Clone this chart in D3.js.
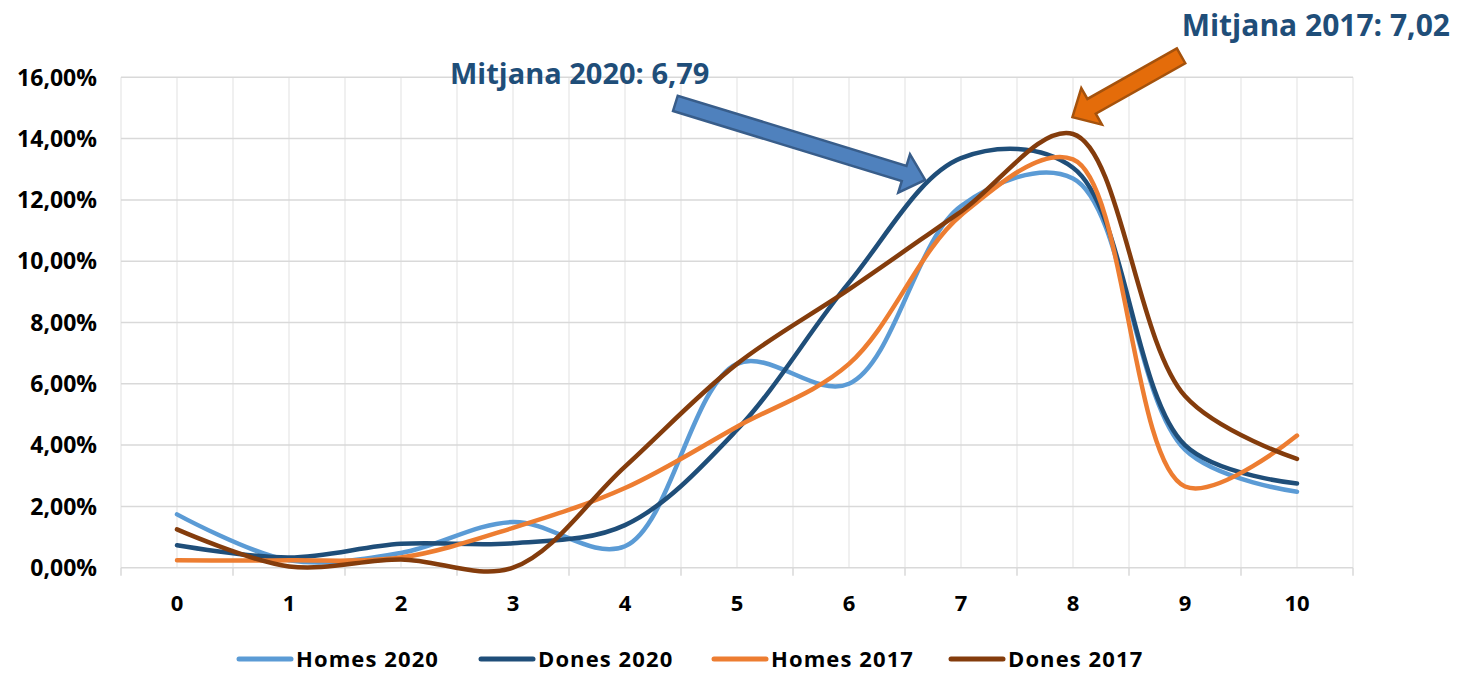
<!DOCTYPE html>
<html>
<head>
<meta charset="utf-8">
<script src="https://cdn.jsdelivr.net/npm/d3@7"></script>
<style>
  body { margin: 0; background: #fff; }
  svg { font-family: "Open Sans", "Noto Sans", sans-serif; font-weight: bold; }
</style>
</head>
<body>
<div id="chart"></div>
<script>
// categories (score 0..10)
const categories = ["0", "1", "2", "3", "4", "5", "6", "7", "8", "9", "10"];

// percentages
const homes2020 = [1.74, 0.24, 0.48, 1.49, 0.70, 6.65, 6.00, 11.80, 12.70, 3.85, 2.48];
const dones2020 = [0.73, 0.33, 0.78, 0.80, 1.39, 4.50, 9.30, 13.36, 13.05, 4.00, 2.75];
const homes2017 = [0.24, 0.24, 0.33, 1.30, 2.60, 4.60, 6.65, 11.50, 13.32, 2.65, 4.31];
const dones2017 = [1.25, 0.04, 0.27, 0.00, 3.30, 6.65, 9.08, 11.62, 14.15, 5.60, 3.55];

const seriesNames = ["Homes 2020", "Dones 2020", "Homes 2017", "Dones 2017"];
const seriesColors = ["#5B9BD5", "#1F4E79", "#ED7D31", "#843C0C"];
const yTicks = [0, 2, 4, 6, 8, 10, 12, 14, 16];

const series = [homes2020, dones2020, homes2017, dones2017].map((vals, i) => ({
  name: seriesNames[i],
  color: seriesColors[i],
  values: vals
}));

const W = 1459, H = 673;
const plot = {left: 121, right: 1353, top: 77.3, bottom: 567.7};

const svg = d3.select("#chart").append("svg")
    .attr("width", W)
    .attr("height", H);

const x = d3.scalePoint()
    .domain(categories)
    .range([plot.left, plot.right])
    .padding(0.5);
const step = x.step();

const y = d3.scaleLinear()
    .domain([0, 16])
    .range([plot.bottom, plot.top]);

// index scale for annotation arrows
const xi = d3.scaleLinear()
    .domain([0, categories.length - 1])
    .range([x(categories[0]), x(categories[categories.length - 1])]);

// ---------------------------------------
// gridlines
const vLines = [];
categories.forEach((c) => {
  vLines.push(x(c) - step / 2);
  vLines.push(x(c));
});
vLines.push(plot.right);

svg.append("g")
    .selectAll("line")
    .data(vLines)
    .enter()
    .append("line")
    .attr("x1", (d) => d)
    .attr("x2", (d) => d)
    .attr("y1", plot.top)
    .attr("y2", plot.bottom)
    .attr("stroke", "#ebebeb")
    .attr("stroke-width", 1.5);

svg.append("g")
    .selectAll("line")
    .data(yTicks)
    .enter()
    .append("line")
    .attr("x1", plot.left)
    .attr("x2", plot.right)
    .attr("y1", (d) => y(d))
    .attr("y2", (d) => y(d))
    .attr("stroke", "#d9d9d9")
    .attr("stroke-width", 1.5);

// tick marks under the axis at band edges
svg.append("g")
    .selectAll("line")
    .data(categories.map((c) => x(c) - step / 2).concat([plot.right]))
    .enter()
    .append("line")
    .attr("x1", (d) => d)
    .attr("x2", (d) => d)
    .attr("y1", plot.bottom)
    .attr("y2", plot.bottom + 8)
    .attr("stroke", "#d9d9d9")
    .attr("stroke-width", 1.5);

// y labels
svg.append("g")
    .selectAll("text")
    .data(yTicks)
    .enter()
    .append("text")
    .attr("x", 97)
    .attr("y", (d) => y(d))
    .attr("dy", "0.36em")
    .attr("text-anchor", "end")
    .attr("font-size", 23)
    .attr("fill", "#000")
    .text((d) => d3.format(".2f")(d).replace(".", ",") + "%");

// x labels
svg.append("g")
    .selectAll("text")
    .data(categories)
    .enter()
    .append("text")
    .attr("x", (d) => x(d))
    .attr("y", 611)
    .attr("text-anchor", "middle")
    .attr("font-size", 22)
    .attr("fill", "#000")
    .text((d) => d);

// ---------------------------------------
// smoothed lines
const line = d3.line()
    .x((d, i) => x(categories[i]))
    .y((d) => y(d))
    .curve(d3.curveCatmullRom.alpha(0.5));

svg.append("g")
    .selectAll("path")
    .data(series)
    .enter()
    .append("path")
    .attr("d", (d) => line(d.values))
    .attr("fill", "none")
    .attr("stroke", (d) => d.color)
    .attr("stroke-width", 4.5)
    .attr("stroke-linecap", "round")
    .attr("stroke-linejoin", "round");

// ---------------------------------------
// annotations
function blockArrow(x0, y0, x1, y1, shaftW, headW, headL) {
  const dx = x1 - x0, dy = y1 - y0;
  const len = Math.sqrt(dx * dx + dy * dy);
  const ux = dx / len, uy = dy / len;
  const nx = -uy, ny = ux;
  const bx = x1 - ux * headL, by = y1 - uy * headL;
  const pts = [
    [x0 + nx * shaftW / 2, y0 + ny * shaftW / 2],
    [bx + nx * shaftW / 2, by + ny * shaftW / 2],
    [bx + nx * headW / 2, by + ny * headW / 2],
    [x1, y1],
    [bx - nx * headW / 2, by - ny * headW / 2],
    [bx - nx * shaftW / 2, by - ny * shaftW / 2],
    [x0 - nx * shaftW / 2, y0 - ny * shaftW / 2]
  ];
  return pts.map((p) => p.join(",")).join(" ");
}

svg.append("polygon")
    .attr("points", blockArrow(xi(4.45), y(15.15), xi(6.68), y(12.65), 16, 40, 22))
    .attr("fill", "#4F81BD")
    .attr("stroke", "#385D8A")
    .attr("stroke-width", 2.5);

svg.append("polygon")
    .attr("points", blockArrow(xi(8.965), y(16.7), xi(7.995), y(14.7), 17, 42, 22))
    .attr("fill", "#E46C0A")
    .attr("stroke", "#A5520C")
    .attr("stroke-width", 2.5);

svg.append("text")
    .attr("x", 450)
    .attr("y", 84)
    .attr("font-size", 29)
    .attr("fill", "#1F4E79")
    .text("Mitjana 2020: 6,79");

svg.append("text")
    .attr("x", 1450)
    .attr("y", 36)
    .attr("text-anchor", "end")
    .attr("font-size", 30)
    .attr("fill", "#1F4E79")
    .text("Mitjana 2017: 7,02");

// ---------------------------------------
// legend
const legendX = [237, 479, 712, 949];
const legend = svg.append("g")
    .selectAll("g")
    .data(series)
    .enter()
    .append("g")
    .attr("transform", (d, i) => "translate(" + legendX[i] + ",659)");

legend.append("line")
    .attr("x1", 2)
    .attr("x2", 54)
    .attr("y1", 0)
    .attr("y2", 0)
    .attr("stroke", (d) => d.color)
    .attr("stroke-width", 5)
    .attr("stroke-linecap", "round");

legend.append("text")
    .attr("x", 59)
    .attr("y", 0)
    .attr("dy", "0.36em")
    .attr("font-size", 22)
    .attr("letter-spacing", 1.1)
    .attr("fill", "#000")
    .text((d) => d.name);
</script>
</body>
</html>
